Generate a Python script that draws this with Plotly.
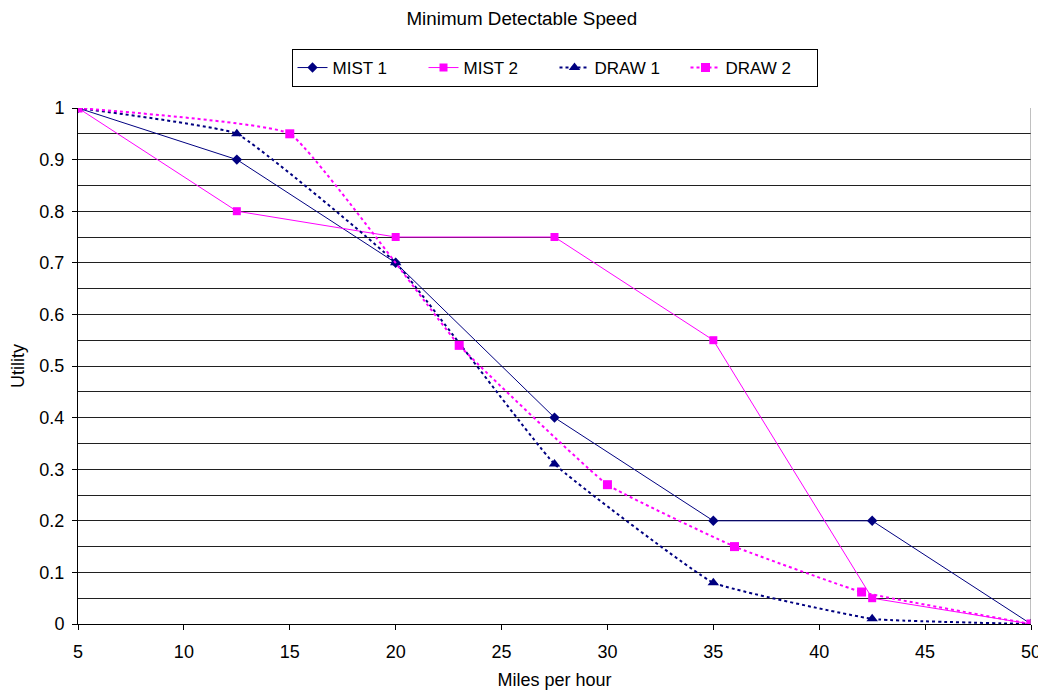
import plotly.graph_objects as go

mist1_x = [5, 12.5, 20, 27.5, 35, 42.5, 50]
mist1_y = [1.0, 0.9, 0.7, 0.4, 0.2, 0.2, 0.0]
mist2_x = [5, 12.5, 20, 27.5, 35, 42.5, 50]
mist2_y = [1.0, 0.8, 0.75, 0.75, 0.55, 0.05, 0.0]
draw1_x = [5, 12.5, 20, 27.5, 35, 42.5, 50]
draw1_y = [1.0, 0.95, 0.7, 0.31, 0.08, 0.01, 0.0]
draw2_x = [5, 15, 23, 30, 36, 42, 50]
draw2_y = [1.0, 0.95, 0.54, 0.27, 0.15, 0.062, 0.0]

NAVY = "#000080"
MAGENTA = "#FF00FF"

fig = go.Figure()
fig.add_trace(go.Scatter(x=mist1_x, y=mist1_y, name="MIST 1", mode="lines+markers",
                         line=dict(color=NAVY, width=1),
                         marker=dict(symbol="diamond", size=8, color=NAVY)))
fig.add_trace(go.Scatter(x=mist2_x, y=mist2_y, name="MIST 2", mode="lines+markers",
                         line=dict(color=MAGENTA, width=1),
                         marker=dict(symbol="square", size=8, color=MAGENTA)))
fig.add_trace(go.Scatter(x=draw1_x, y=draw1_y, name="DRAW 1", mode="lines+markers",
                         line=dict(color=NAVY, width=2, dash="dot", shape="spline", smoothing=0.3),
                         marker=dict(symbol="triangle-up", size=10, color=NAVY)))
fig.add_trace(go.Scatter(x=draw2_x, y=draw2_y, name="DRAW 2", mode="lines+markers",
                         line=dict(color=MAGENTA, width=2, dash="dot", shape="spline", smoothing=0.3),
                         marker=dict(symbol="square", size=9, color=MAGENTA)))

# page body adds an 8px offset; figure sized so the plot area lands at
# x 78..1031, y 108..624 in the 1046x698 window
fig.update_layout(
    width=1038, height=682,
    paper_bgcolor="white", plot_bgcolor="white",
    font=dict(family="Liberation Sans, Arial, sans-serif", size=18, color="black"),
    margin=dict(l=70, r=15, t=100, b=66, autoexpand=False),
    title=dict(text="Minimum Detectable Speed", x=0.495, xanchor="center",
               y=0.984, yanchor="middle", font=dict(size=18.8)),
    legend=dict(orientation="h", x=0.5, xanchor="center", y=1.0775, yanchor="middle",
                bordercolor="black", borderwidth=1, font=dict(size=17),
                entrywidth=86, entrywidthmode="pixels", tracegroupgap=0),
    showlegend=True,
)
fig.update_xaxes(range=[5, 50], tickmode="linear", tick0=5, dtick=5,
                 showgrid=False, zeroline=False, showline=True, linecolor="black",
                 ticks="outside", ticklen=5, tickcolor="black", automargin=False,
                 ticklabelstandoff=6, ticklabeloverflow="allow",
                 title=dict(text="Miles per hour", font=dict(size=18), standoff=21))
fig.update_yaxes(range=[0, 1], tickmode="linear", tick0=0, dtick=0.1,
                 showgrid=True, gridcolor="#202020", gridwidth=1, zeroline=False,
                 showline=True, linecolor="black", ticks="outside", ticklen=5, tickcolor="black",
                 automargin=False, ticklabelstandoff=4,
                 minor=dict(dtick=0.05, showgrid=True, gridcolor="#202020", gridwidth=1),
                 title=dict(text="Utility", font=dict(size=18), standoff=13))
fig.add_shape(type="line", xref="x", yref="paper", x0=50, x1=50, y0=0, y1=1,
              line=dict(color="#808080", width=1))

fig.write_html("out.html")
